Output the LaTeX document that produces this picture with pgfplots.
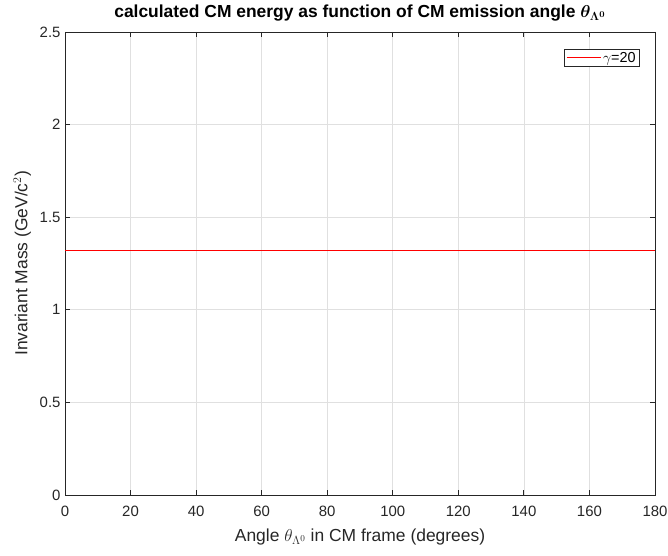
\documentclass[border=0pt]{standalone}
\usepackage{amsmath}
\usepackage{pgfplots}
\pgfplotsset{compat=1.18}
\usepackage{fontspec}
\setmainfont{Liberation Sans}
\definecolor{axgray}{rgb}{0.15,0.15,0.15}
\definecolor{gridgray}{rgb}{0.88,0.88,0.88}
\definecolor{mlred}{rgb}{1,0,0}
\begin{document}
\begin{tikzpicture}[x=1bp,y=1bp]
\path[use as bounding box] (0,0) rectangle (668,556);
\begin{axis}[
  at={(65bp,61bp)}, anchor=south west,
  scale only axis, width=590bp, height=463bp,
  xmin=0, xmax=180, ymin=0, ymax=2.5,
  xtick={0,20,...,180}, ytick={0,0.5,1,1.5,2,2.5},
  yticklabels={0,0.5,1,1.5,2,2.5},
  xticklabels={0,20,40,60,80,100,120,140,160,180},
  tick align=inside, tick pos=both,
  major tick length=5bp,
  grid=major,
  major grid style={gridgray, line width=0.6bp},
  axis line style={axgray, line width=0.9bp},
  tick style={axgray, line width=0.9bp},
  ticklabel style={font=\fontsize{15}{17}\selectfont, text=axgray},
  xticklabel style={yshift=-8bp},
  yticklabel style={xshift=-1bp},
  xlabel={Angle $\theta_{\Lambda^0}$ in CM frame (degrees)},
  ylabel={Invariant Mass (GeV/c$^2$)},
  label style={font=\fontsize{17.5}{19}\selectfont, text=axgray},
  xlabel style={yshift=-5bp},
  ylabel style={yshift=2bp},
  title={\textbf{calculated CM energy as function of CM emission angle} $\boldsymbol{\theta_{\Lambda^0}}$},
  title style={font=\fontsize{17.5}{19}\selectfont, yshift=1bp},
  legend style={at={(0.9746,0.963)}, anchor=north east, draw=axgray, font=\fontsize{14.5}{16}\selectfont, inner xsep=2bp, inner ysep=0.5bp, line width=0.8bp},
  legend cell align=left,
  legend image post style={draw=mlred, line width=0.9bp, xscale=2},
]
\addplot[draw=mlred, line width=0.9bp] coordinates {(0,1.3217) (180,1.3217)};
\addlegendentry{$\gamma$=20}
\end{axis}
\end{tikzpicture}
\end{document}
